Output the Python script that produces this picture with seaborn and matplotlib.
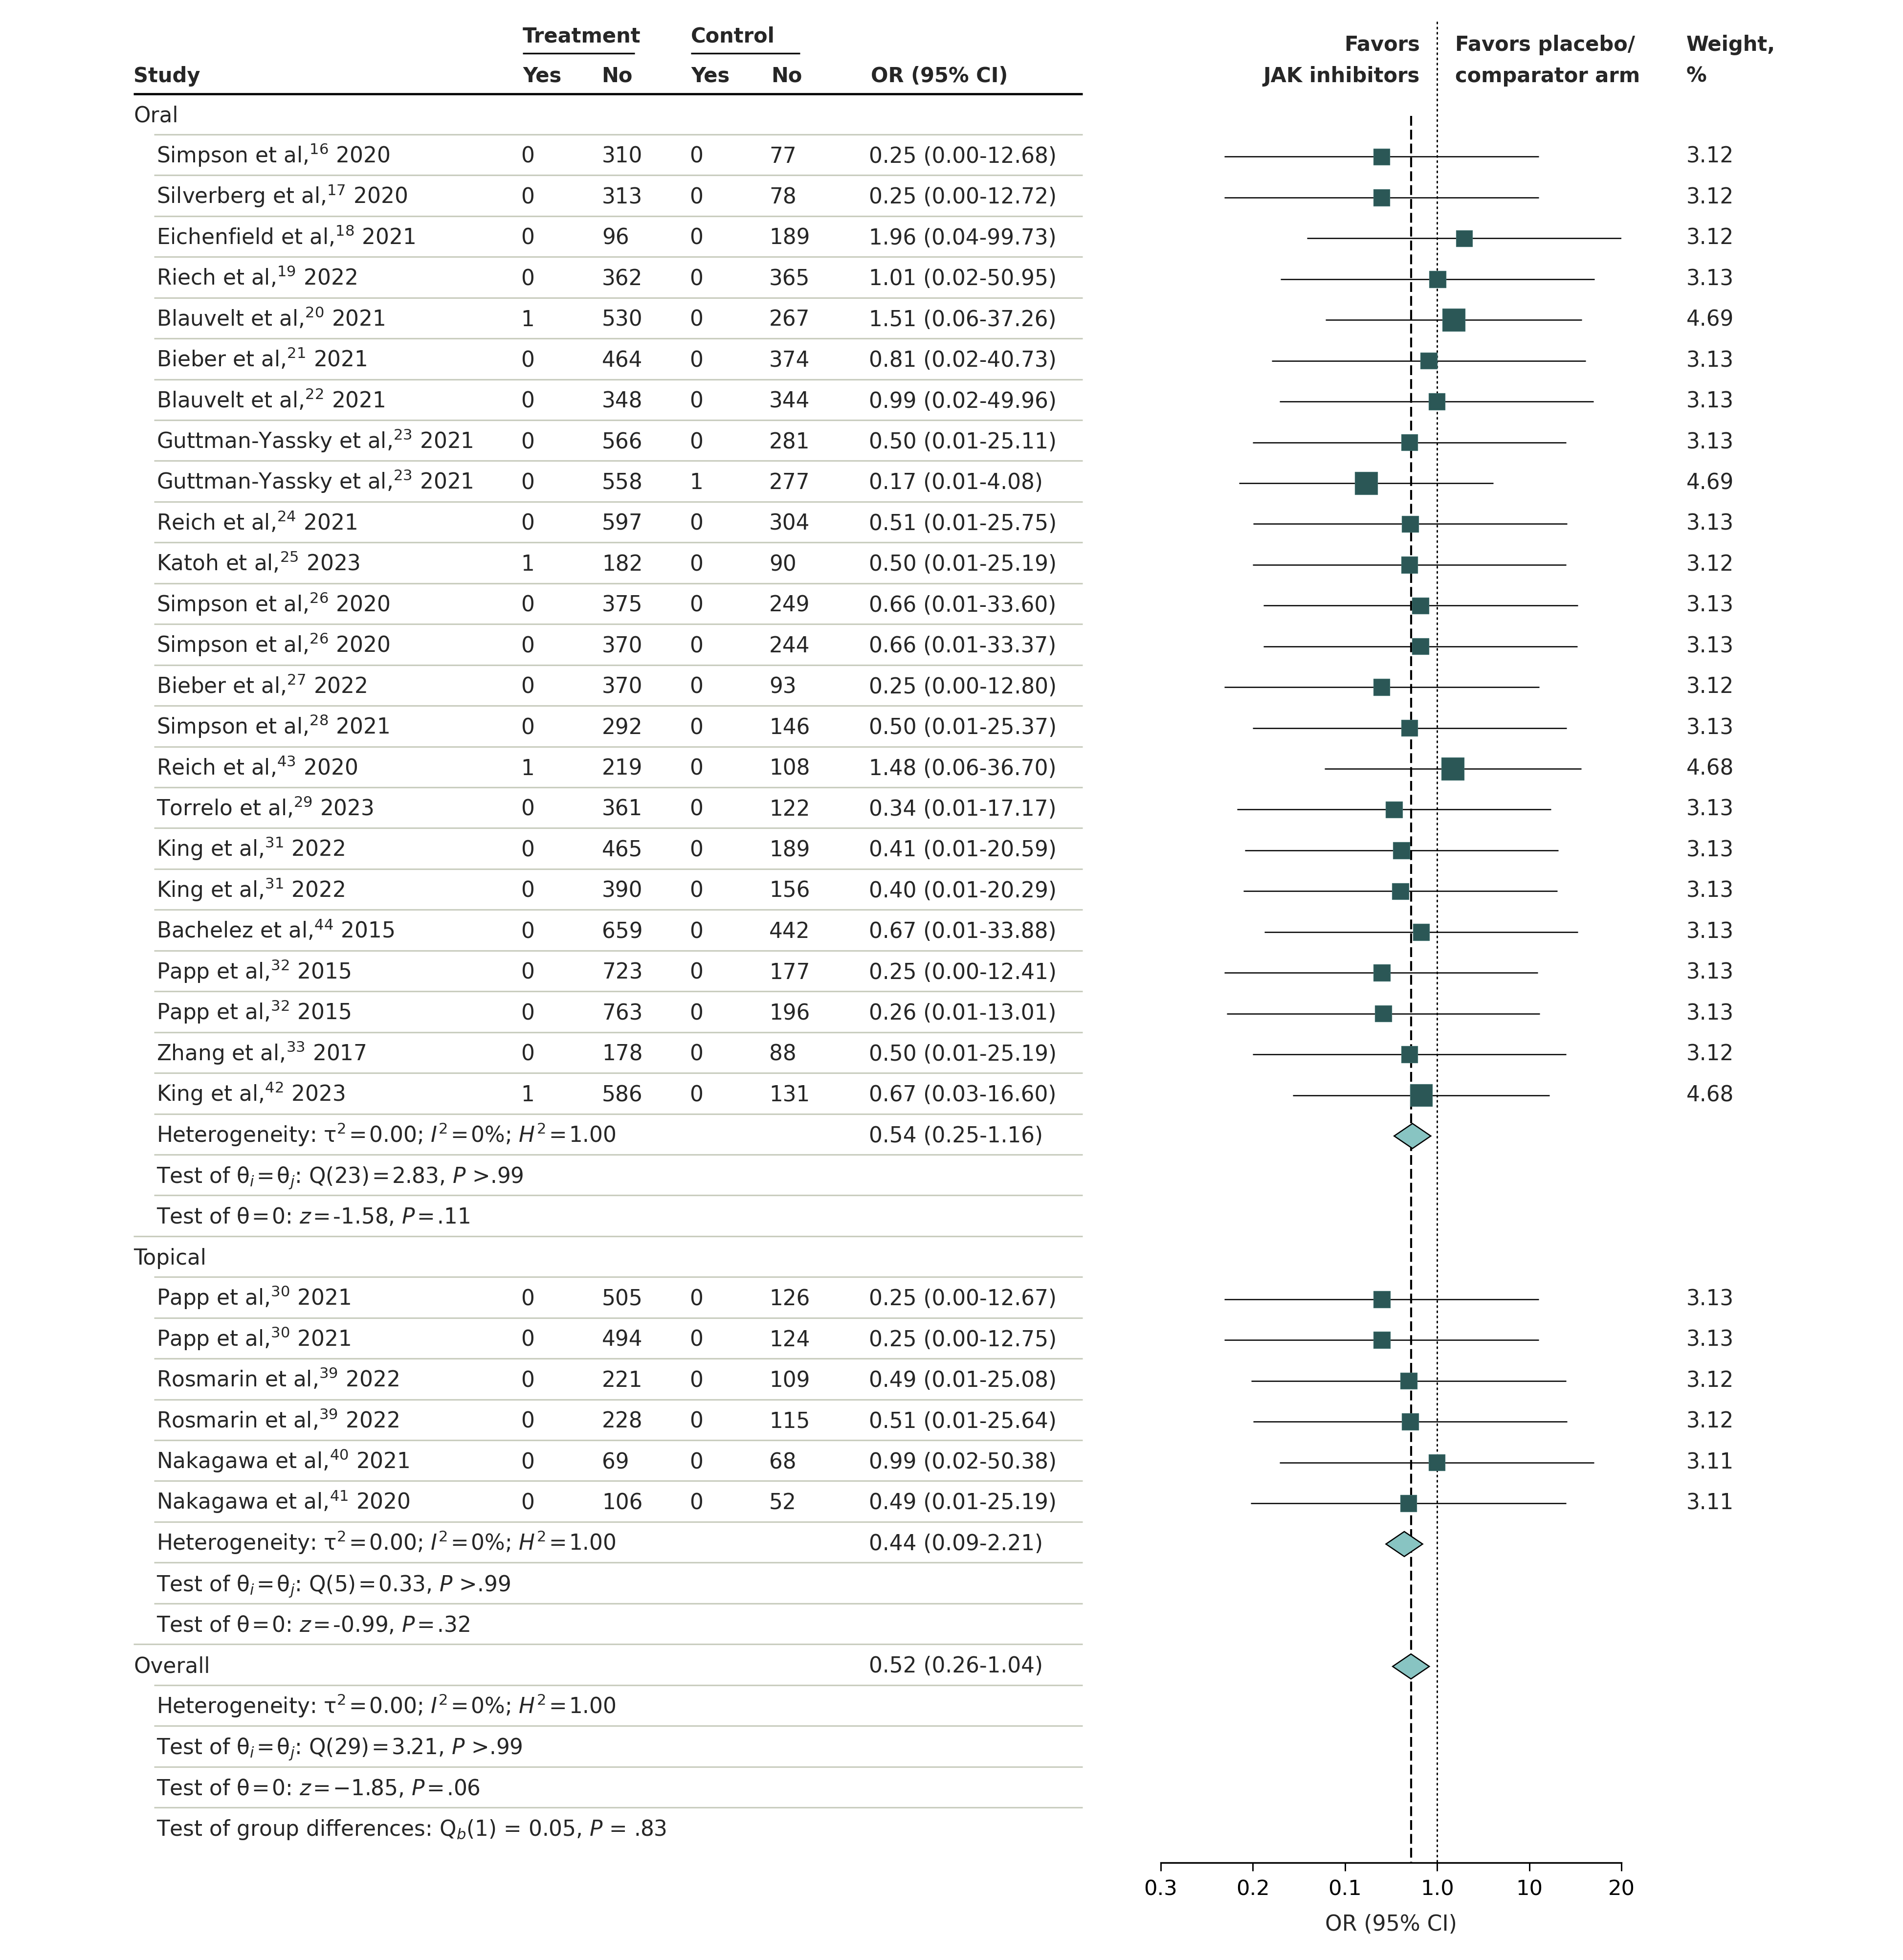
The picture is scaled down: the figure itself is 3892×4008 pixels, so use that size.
import numpy as np
import pandas as pd
import matplotlib
matplotlib.use("Agg")
import matplotlib.pyplot as plt
import seaborn as sns

# ---------------- data ----------------
oral_names = ["Simpson et al,", "Silverberg et al,", "Eichenfield et al,", "Riech et al,",
              "Blauvelt et al,", "Bieber et al,", "Blauvelt et al,", "Guttman-Yassky et al,",
              "Guttman-Yassky et al,", "Reich et al,", "Katoh et al,", "Simpson et al,",
              "Simpson et al,", "Bieber et al,", "Simpson et al,", "Reich et al,",
              "Torrelo et al,", "King et al,", "King et al,", "Bachelez et al,",
              "Papp et al,", "Papp et al,", "Zhang et al,", "King et al,"]
oral_refs = [16, 17, 18, 19, 20, 21, 22, 23, 23, 24, 25, 26, 26, 27, 28, 43, 29, 31, 31, 44, 32, 32, 33, 42]
oral_years = [2020, 2020, 2021, 2022, 2021, 2021, 2021, 2021, 2021, 2021, 2023, 2020, 2020, 2022,
              2021, 2020, 2023, 2022, 2022, 2015, 2015, 2015, 2017, 2023]
oral_t_yes = [0, 0, 0, 0, 1, 0, 0, 0, 0, 0, 1, 0, 0, 0, 0, 1, 0, 0, 0, 0, 0, 0, 0, 1]
oral_t_no = [310, 313, 96, 362, 530, 464, 348, 566, 558, 597, 182, 375, 370, 370, 292, 219, 361,
             465, 390, 659, 723, 763, 178, 586]
oral_c_yes = [0, 0, 0, 0, 0, 0, 0, 0, 1, 0, 0, 0, 0, 0, 0, 0, 0, 0, 0, 0, 0, 0, 0, 0]
oral_c_no = [77, 78, 189, 365, 267, 374, 344, 281, 277, 304, 90, 249, 244, 93, 146, 108, 122,
             189, 156, 442, 177, 196, 88, 131]
oral_or = [0.25, 0.25, 1.96, 1.01, 1.51, 0.81, 0.99, 0.50, 0.17, 0.51, 0.50, 0.66, 0.66, 0.25,
           0.50, 1.48, 0.34, 0.41, 0.40, 0.67, 0.25, 0.26, 0.50, 0.67]
oral_lo = [0.0049, 0.0049, 0.0385, 0.0200, 0.0612, 0.0161, 0.0196, 0.0100, 0.0071, 0.0101,
           0.0099, 0.0130, 0.0131, 0.0049, 0.0099, 0.0597, 0.0067, 0.0082, 0.0079, 0.0133,
           0.0049, 0.0052, 0.0099, 0.0270]
oral_hi = [12.68, 12.72, 99.73, 50.95, 37.26, 40.73, 49.96, 25.11, 4.08, 25.75, 25.19, 33.60,
           33.37, 12.80, 25.37, 36.70, 17.17, 20.59, 20.29, 33.88, 12.41, 13.01, 25.19, 16.60]
oral_w = [3.12, 3.12, 3.12, 3.13, 4.69, 3.13, 3.13, 3.13, 4.69, 3.13, 3.12, 3.13, 3.13, 3.12,
          3.13, 4.68, 3.13, 3.13, 3.13, 3.13, 3.13, 3.13, 3.12, 4.68]

top_names = ["Papp et al,", "Papp et al,", "Rosmarin et al,", "Rosmarin et al,",
             "Nakagawa et al,", "Nakagawa et al,"]
top_refs = [30, 30, 39, 39, 40, 41]
top_years = [2021, 2021, 2022, 2022, 2021, 2020]
top_t_yes = [0, 0, 0, 0, 0, 0]
top_t_no = [505, 494, 221, 228, 69, 106]
top_c_yes = [0, 0, 0, 0, 0, 0]
top_c_no = [126, 124, 109, 115, 68, 52]
top_or = [0.25, 0.25, 0.49, 0.51, 0.99, 0.49]
top_lo = [0.0049, 0.0049, 0.0096, 0.0101, 0.0195, 0.0095]
top_hi = [12.67, 12.75, 25.08, 25.64, 50.38, 25.19]
top_w = [3.13, 3.13, 3.12, 3.12, 3.11, 3.11]

pooled_labels = ["Oral", "Topical", "Overall"]
pooled_or = [0.54, 0.44, 0.52]
pooled_lo = [0.25, 0.09, 0.26]
pooled_hi = [1.16, 2.21, 1.04]

EQ = "\u200a=\u200a"
oral_stats = [f"Heterogeneity: τ$^2${EQ}0.00; $I^2${EQ}0%; $H^2${EQ}1.00",
              f"Test of θ$_i${EQ}θ$_j$: Q(23){EQ}2.83, $P$ >.99",
              f"Test of θ{EQ}0: $z${EQ}-1.58, $P${EQ}.11"]
top_stats = [f"Heterogeneity: τ$^2${EQ}0.00; $I^2${EQ}0%; $H^2${EQ}1.00",
             f"Test of θ$_i${EQ}θ$_j$: Q(5){EQ}0.33, $P$ >.99",
             f"Test of θ{EQ}0: $z${EQ}-0.99, $P${EQ}.32"]
overall_stats = [f"Heterogeneity: τ$^2${EQ}0.00; $I^2${EQ}0%; $H^2${EQ}1.00",
                 f"Test of θ$_i${EQ}θ$_j$: Q(29){EQ}3.21, $P$ >.99",
                 f"Test of θ{EQ}0: $z${EQ}−1.85, $P${EQ}.06",
                 "Test of group differences: Q$_b$(1) = 0.05, $P$ = .83"]

tick_vals = [0.001, 0.01, 0.1, 1, 10, 100]
tick_labels = ["0.3", "0.2", "0.1", "1.0", "10", "20"]

# ---------------- style ----------------
sns.set_style("white")
plt.rcParams["font.family"] = ["DejaVu Sans"]
plt.rcParams["mathtext.fontset"] = "dejavusans"

W, H, DPI = 3892, 4008, 300
fig = plt.figure(figsize=(W / DPI, H / DPI), dpi=DPI)
fig.patch.set_facecolor("white")

ROW0, ROWH = 237.0, 83.44


def yrow(px):
    return (px - ROW0) / ROWH


ytop, ybot = yrow(0), yrow(H)

ax_t = fig.add_axes([0, 0, 1, 1])
ax_t.set_xlim(0, W)
ax_t.set_ylim(ybot, ytop)
ax_t.axis("off")

AX_L, AX_R = 2374, 3316
ax_f = fig.add_axes([AX_L / W, 0, (AX_R - AX_L) / W, 1])
ax_f.patch.set_alpha(0)

FS = 10.5
HFS = 10.0
BASE = 0.15
X_GROUP, X_STUDY = 273, 320
X_TY, X_TN, X_CY, X_CN, X_OR, X_WT = 1065, 1231, 1410, 1573, 1777, 3449
SEP_COL = "#c9cdbf"
SQ_COL = "#2b5756"
DIA_COL = "#88c4c2"


def put(x, r, s, ha="left"):
    ax_t.text(x, r + BASE, s, ha=ha, va="baseline", fontsize=FS)


def head(x, y, s, ha="left"):
    ax_t.text(x, y, s, ha=ha, va="baseline", fontsize=HFS, fontweight="bold")


# ---------------- headers ----------------
hb1, hb2 = yrow(87), yrow(168)
head(1069, hb1, "Treatment")
head(1413, hb1, "Control")
ax_t.plot([1069, 1298], [yrow(109)] * 2, color="black", lw=0.8, solid_capstyle="butt")
ax_t.plot([1413, 1636], [yrow(109)] * 2, color="black", lw=0.8, solid_capstyle="butt")
for x, s in [(273, "Study"), (1069, "Yes"), (1230, "No"), (1413, "Yes"), (1577, "No"),
             (1781, "OR (95% CI)")]:
    head(x, hb2, s)
ax_t.plot([273, 2214], [yrow(192)] * 2, color="black", lw=1.1, solid_capstyle="butt")

fb1 = yrow(104)
head(2904, fb1, "Favors", ha="right")
head(2904, hb2, "JAK inhibitors", ha="right")
head(2976, fb1, "Favors placebo/")
head(2976, hb2, "comparator arm")
head(X_WT, fb1, "Weight,")
head(X_WT, hb2, "%")

# ---------------- table rows ----------------
records = []
r = 0
put(X_GROUP, r, "Oral")
r += 1
for i in range(len(oral_names)):
    records.append(dict(row=r, OR=oral_or[i], lo=oral_lo[i], hi=oral_hi[i], w=oral_w[i],
                        name=oral_names[i], ref=oral_refs[i], year=oral_years[i],
                        ty=oral_t_yes[i], tn=oral_t_no[i], cy=oral_c_yes[i], cn=oral_c_no[i]))
    r += 1
oral_pool_row = r
for s in oral_stats:
    put(X_STUDY, r, s)
    r += 1
full_seps = [r - 1]
put(X_GROUP, r, "Topical")
r += 1
for i in range(len(top_names)):
    records.append(dict(row=r, OR=top_or[i], lo=top_lo[i], hi=top_hi[i], w=top_w[i],
                        name=top_names[i], ref=top_refs[i], year=top_years[i],
                        ty=top_t_yes[i], tn=top_t_no[i], cy=top_c_yes[i], cn=top_c_no[i]))
    r += 1
top_pool_row = r
for s in top_stats:
    put(X_STUDY, r, s)
    r += 1
full_seps.append(r - 1)
overall_row = r
put(X_GROUP, r, "Overall")
r += 1
for s in overall_stats:
    put(X_STUDY, r, s)
    r += 1
last_row = r - 1

df = pd.DataFrame(records)
for _, d in df.iterrows():
    rr = d["row"]
    put(X_STUDY, rr, f"{d['name']}$^{{{int(d['ref'])}}}$ {int(d['year'])}")
    put(X_TY, rr, f"{int(d['ty'])}")
    put(X_TN, rr, f"{int(d['tn'])}")
    put(X_CY, rr, f"{int(d['cy'])}")
    put(X_CN, rr, f"{int(d['cn'])}")
    put(X_OR, rr, f"{d['OR']:.2f} ({d['lo']:.2f}-{d['hi']:.2f})")
    put(X_WT, rr, f"{d['w']:.2f}")

pool_rows = [oral_pool_row, top_pool_row, overall_row]
for pr, o, l, h in zip(pool_rows, pooled_or, pooled_lo, pooled_hi):
    put(X_OR, pr, f"{o:.2f} ({l:.2f}-{h:.2f})")

# separators
for i in range(0, last_row):
    x0 = X_GROUP if i in full_seps else 315
    ax_t.plot([x0, 2214], [i + 0.455] * 2, color=SEP_COL, lw=0.75, solid_capstyle="butt")

# ---------------- forest plot ----------------
ax_f.set_xscale("log")
axis_row = yrow(3809)
ax_f.plot([1, 1], [yrow(45), axis_row], color="black", lw=0.7,
          linestyle=(0, (1, 2.6)), dash_capstyle="round", zorder=1)
ax_f.plot([pooled_or[2], pooled_or[2]], [0, axis_row], color="black", lw=1.0,
          linestyle=(0, (4.8, 2.0)), zorder=1)
ax_f.hlines(df["row"], df["lo"], df["hi"], color="black", lw=0.6, zorder=2)
sns.scatterplot(data=df, x="OR", y="row", size="w", sizes=(64, 120), size_norm=(3.11, 4.69),
                marker="s", color=SQ_COL, edgecolor="#3f6e6c", linewidth=0.3,
                legend=False, ax=ax_f, zorder=3)
half_w = 10 ** (37.5 / ((AX_R - AX_L) / 5))
half_h = 25.5 / ROWH
for pr, o in zip(pool_rows, pooled_or):
    ax_f.fill([o / half_w, o, o * half_w, o], [pr, pr - half_h, pr, pr + half_h],
              facecolor=DIA_COL, edgecolor="black", lw=0.6, zorder=4)

ax_f.set_xlim(1e-3, 1e2)
ax_f.set_ylim(ybot, ytop)
ax_f.set_xticks(tick_vals)
ax_f.set_xticklabels(tick_labels)
ax_f.xaxis.set_minor_locator(matplotlib.ticker.NullLocator())
ax_f.set_yticks([])
for side in ["top", "left", "right"]:
    ax_f.spines[side].set_visible(False)
ax_f.spines["bottom"].set_position(("data", axis_row))
ax_f.spines["bottom"].set_linewidth(0.8)
ax_f.spines["bottom"].set_color("black")
ax_f.tick_params(axis="x", direction="out", length=4.1, width=0.7, pad=4.0,
                 labelsize=10.4, colors="black", bottom=True)
ax_f.set_xlabel("OR (95% CI)", fontsize=10.6, labelpad=7)
ax_f.set_ylabel("")
ax_f.grid(False)

fig.savefig("out.png", dpi=DPI, facecolor="white")
